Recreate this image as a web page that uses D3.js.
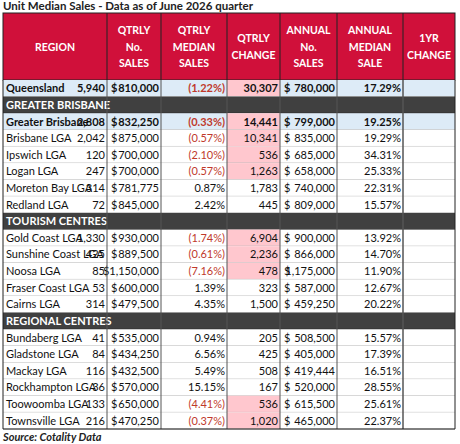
<!DOCTYPE html>
<html><head><meta charset="utf-8">
<script src="https://cdn.jsdelivr.net/npm/d3@7"></script>
<style>body{margin:0;background:#fff;font-family:Lato,"Open Sans",sans-serif}</style>
</head><body><div id="chart"></div>
<script>
// table data
var headers = [["REGION"], ["QTRLY","No.","SALES"], ["QTRLY","MEDIAN","SALES"], ["QTRLY","CHANGE"],
               ["ANNUAL","No.","SALES"], ["ANNUAL","MEDIAN","SALE"], ["1YR","CHANGE"]];
var regions = ["Queensland","GREATER BRISBANE","Greater Brisbane","Brisbane LGA","Ipswich LGA","Logan LGA",
  "Moreton Bay LGA","Redland LGA","TOURISM CENTRES","Gold Coast LGA","Sunshine Coast LGA","Noosa LGA",
  "Fraser Coast LGA","Cairns LGA","REGIONAL CENTRES","Bundaberg LGA","Gladstone LGA","Mackay LGA",
  "Rockhampton LGA","Toowoomba LGA","Townsville LGA"];
var rowType = ["total","section","total","lga","lga","lga","lga","lga","section","lga","lga","lga","lga","lga",
  "section","lga","lga","lga","lga","lga","lga"];
var qtrSales = [5940,null,2808,2042,120,247,314,72,null,1330,425,85,53,314,null,41,84,116,36,133,216];
var qtrMedian = [810000,null,832250,875000,700000,700000,781775,845000,null,930000,889500,1150000,600000,479500,
  null,535000,434250,432500,570000,650000,470250];
var qtrChange = [-1.22,null,-0.33,-0.57,-2.10,-0.57,0.87,2.42,null,-1.74,-0.61,-7.16,1.39,4.35,
  null,0.94,6.56,5.49,15.15,-4.41,-0.37];
var annSales = [30307,null,14441,10341,536,1263,1783,445,null,6904,2236,478,323,1500,null,205,425,508,167,536,1020];
var annMedian = [780000,null,799000,835000,685000,658000,740000,809000,null,900000,866000,1175000,587000,459250,
  null,508500,405000,419444,520000,615500,465000];
var yrChange = [17.29,null,19.25,19.29,34.31,25.33,22.31,15.57,null,13.92,14.70,11.90,12.67,20.22,
  null,15.57,17.39,16.51,28.55,25.61,22.37];

var W = 460, H = 444;
var colEdges = [3,107,161,227,280,337,403,455];
var tableTop = 80, tableBottom = 429;
var y = d3.scaleBand().domain(d3.range(regions.length)).range([tableTop, tableBottom]);
var fmt = d3.format(",");
var pct = function(v){ return v < 0 ? "(" + (-v).toFixed(2) + "%)" : v.toFixed(2) + "%"; };

var svg = d3.select("#chart").append("svg").attr("width", W).attr("height", H)
  .style("font-family", "Lato, 'Open Sans', sans-serif");

svg.append("text").attr("x", 3).attr("y", 10).attr("font-size", 11.5).attr("font-weight", "bold")
  .attr("fill", "#222").text("Unit Median Sales - Data as of June 2026 quarter");

// header
svg.append("rect").attr("x", 3).attr("y", 13).attr("width", 452).attr("height", tableTop - 13)
  .attr("fill", "#d0103a").attr("stroke", "#222");
headers.forEach(function(h, i) {
  var cx = (colEdges[i] + colEdges[i+1]) / 2, lh = 16.5;
  var y0 = (13 + tableTop) / 2 - (h.length - 1) * lh / 2 + 4;
  svg.append("text").attr("x", cx).attr("y", y0).attr("text-anchor", "middle")
    .attr("font-size", 10.5).attr("font-weight", "bold").attr("fill", "#fff")
    .selectAll("tspan").data(h).join("tspan").attr("x", cx).attr("dy", function(d, k){ return k ? lh : 0; })
    .text(function(d){ return d; });
});
colEdges.slice(1, -1).forEach(function(x) {
  svg.append("line").attr("x1", x).attr("x2", x).attr("y1", 13).attr("y2", tableTop).attr("stroke", "#222");
});

// rows
var rows = svg.selectAll("g.row").data(regions).join("g").attr("class", "row")
  .attr("transform", function(d, i){ return "translate(0," + y(i) + ")"; });
var bh = y.bandwidth();
rows.append("rect").attr("x", 3).attr("width", 452).attr("height", bh)
  .attr("fill", function(d, i){ return rowType[i] == "section" ? "#404040" : rowType[i] == "total" ? "#ddebf7" : "#fff"; });

rows.each(function(name, i) {
  var g = d3.select(this), t = rowType[i], ty = bh / 2 + 4;
  var bold = t == "lga" ? "normal" : "bold";
  g.append("text").attr("x", 6).attr("y", ty).attr("font-size", 11).attr("font-weight", bold)
    .attr("fill", t == "section" ? "#fff" : "#111").text(name);
  if (t == "section") return;
  function right(col, txt, col2) {
    g.append("text").attr("x", colEdges[col+1] - 2).attr("y", ty).attr("text-anchor", "end")
      .attr("font-size", 11).attr("font-weight", bold).attr("fill", col2 || "#111").text(txt);
  }
  function money(col, v, tight) {
    var s = fmt(v);
    if (tight) { right(col, "$" + s); return; }
    g.append("text").attr("x", colEdges[col] + 4).attr("y", ty).attr("font-size", 11).attr("font-weight", bold)
      .attr("fill", "#111").text("$");
    right(col, s);
  }
  if (qtrChange[i] < 0) g.append("rect").attr("x", colEdges[3]).attr("width", colEdges[4] - colEdges[3])
    .attr("height", bh).attr("fill", "#ffc7ce");
  right(0, fmt(qtrSales[i]));
  money(1, qtrMedian[i], qtrMedian[i] >= 1000000);
  right(2, pct(qtrChange[i]), qtrChange[i] < 0 ? "#c0392b" : "#111");
  right(3, fmt(annSales[i]));
  money(4, annMedian[i], false);
  right(5, pct(yrChange[i]));
});
// grid lines
rows.append("line").attr("x1", 3).attr("x2", 455).attr("y1", bh).attr("y2", bh)
  .attr("stroke", function(d, i){ return rowType[i] == "section" ? "#222" : "#bbb"; });
colEdges.forEach(function(x, k) {
  svg.append("line").attr("x1", x).attr("x2", x).attr("y1", tableTop).attr("y2", tableBottom)
    .attr("stroke", k == 0 || k == 7 ? "#222" : "#555").attr("stroke-width", k == 6 ? 1.5 : 1);
});
svg.append("line").attr("x1", 3).attr("x2", 455).attr("y1", tableBottom).attr("y2", tableBottom).attr("stroke", "#222");

svg.append("text").attr("x", 3).attr("y", 441).attr("font-size", 11).attr("font-weight", "bold")
  .attr("font-style", "italic").attr("fill", "#222").text("Source: Cotality Data");
</script></body></html>
